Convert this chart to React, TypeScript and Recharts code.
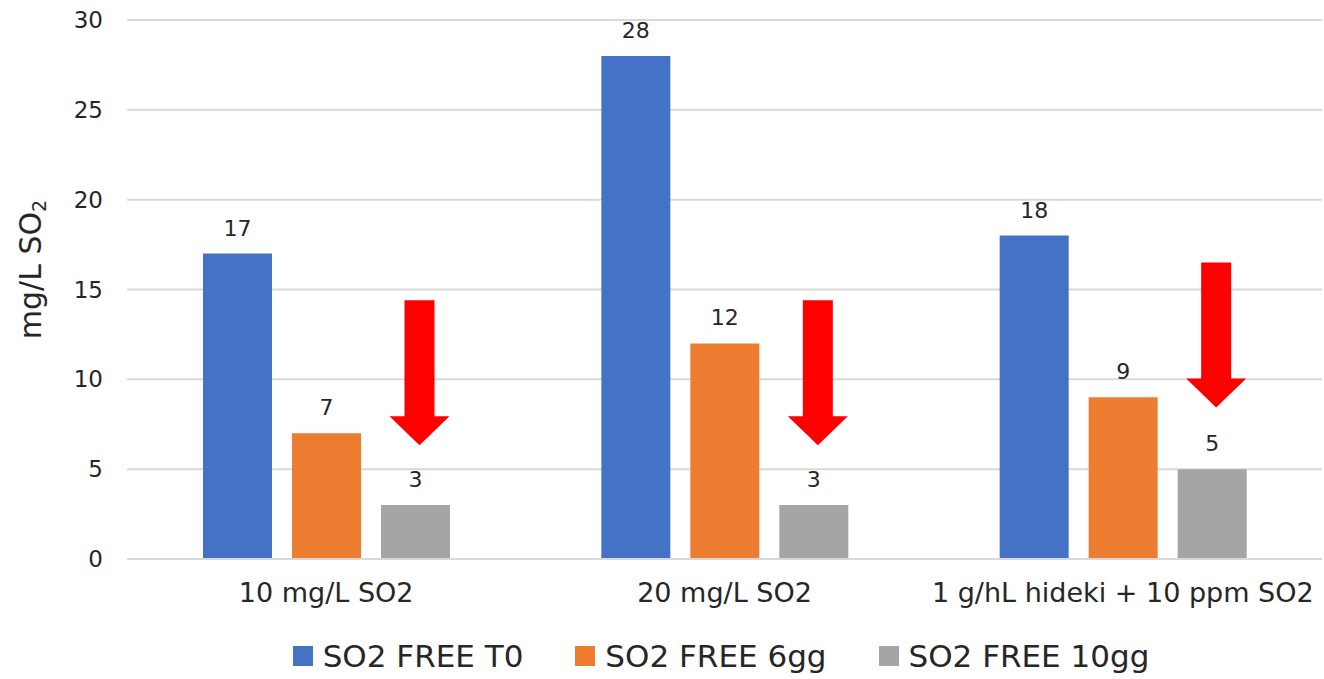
import { Bar, BarChart, CartesianGrid, LabelList, Legend, XAxis, YAxis } from "recharts";

const categories = ["10 mg/L SO2", "20 mg/L SO2", "1 g/hL hideki + 10 ppm SO2"];
const freeT0 = [17, 28, 18];
const free6gg = [7, 12, 9];
const free10gg = [3, 3, 5];
// where the red "decrease" arrows start, in mg/L
const arrowTop = [14.4, 14.4, 16.5];

const yTicks = [0, 5, 10, 15, 20, 25, 30];

const SERIES = [
  { key: "t0", label: "SO2 FREE T0", color: "#4472C4" },
  { key: "gg6", label: "SO2 FREE 6gg", color: "#ED7D31" },
  { key: "gg10", label: "SO2 FREE 10gg", color: "#A5A5A5" },
];

const data = categories.map((name, i) => ({
  name,
  t0: freeT0[i],
  gg6: free6gg[i],
  gg10: free10gg[i],
  arrow: arrowTop[i],
}));

const FONT = "'DejaVu Sans', sans-serif";
const TEXT = "#262626";

function Arrow(props: any) {
  const { x, y, width, height, index, value } = props;
  const barVal = free10gg[index];
  if (!barVal) return null;
  const perUnit = height / barVal;
  const base = y + height;
  const top = base - value * perUnit;
  const cx = x + width / 2 + 4;
  const len = 145;
  const head = 29;
  const sw = 15;
  const hw = 30;
  const pts = [
    [cx - sw, top],
    [cx + sw, top],
    [cx + sw, top + len - head],
    [cx + hw, top + len - head],
    [cx, top + len],
    [cx - hw, top + len - head],
    [cx - sw, top + len - head],
  ]
    .map((p) => p.join(","))
    .join(" ");
  return <polygon points={pts} fill="#FF0000" />;
}

function YTitle(props: any) {
  const { viewBox } = props;
  const cx = 32;
  const cy = viewBox.y + viewBox.height / 2 - 20;
  return (
    <text
      x={cx}
      y={cy}
      transform={`rotate(-90 ${cx} ${cy})`}
      textAnchor="middle"
      dominantBaseline="middle"
      fontSize={30}
      fontFamily={FONT}
      fill={TEXT}
    >
      mg/L SO
      <tspan fontSize={19} dy={8}>
        2
      </tspan>
    </text>
  );
}

function LegendBox() {
  return (
    <div
      style={{
        display: "flex",
        justifyContent: "center",
        gap: 52,
        fontFamily: FONT,
        fontSize: 31,
        color: TEXT,
        paddingLeft: 80,
        paddingTop: 14,
      }}
    >
      {SERIES.map((s) => (
        <div key={s.key} style={{ display: "flex", alignItems: "center" }}>
          <span
            style={{
              width: 20,
              height: 20,
              background: s.color,
              display: "inline-block",
              marginRight: 10,
            }}
          />
          {s.label}
        </div>
      ))}
    </div>
  );
}

export default function App() {
  return (
    <div style={{ position: "absolute", left: 0, top: 0, background: "#fff" }}>
      <BarChart
        width={1324}
        height={679}
        data={data}
        margin={{ top: 20, right: 2, bottom: 0, left: 40 }}
        barSize={69}
        barGap={20}
      >
        <CartesianGrid vertical={false} stroke="#D9D9D9" strokeWidth={2} />
        <XAxis
          dataKey="name"
          tickLine={false}
          axisLine={{ stroke: "#D9D9D9", strokeWidth: 2 }}
          tick={{ fontSize: 27, fontFamily: FONT, fill: TEXT }}
          tickMargin={18}
          height={65}
        />
        <YAxis
          domain={[0, 30]}
          ticks={yTicks}
          width={87}
          tickLine={false}
          axisLine={false}
          tick={{ fontSize: 23, fontFamily: FONT, fill: TEXT }}
          tickMargin={18}
          label={<YTitle />}
        />
        <Legend verticalAlign="bottom" height={55} content={<LegendBox />} />
        {SERIES.map((s) => (
          <Bar key={s.key} dataKey={s.key} name={s.label} fill={s.color} isAnimationActive={false}>
            <LabelList
              dataKey={s.key}
              position="top"
              offset={18}
              style={{ fontSize: 22, fontFamily: FONT, fill: TEXT }}
            />
            {s.key === "gg10" && <LabelList dataKey="arrow" content={<Arrow />} />}
          </Bar>
        ))}
      </BarChart>
    </div>
  );
}
